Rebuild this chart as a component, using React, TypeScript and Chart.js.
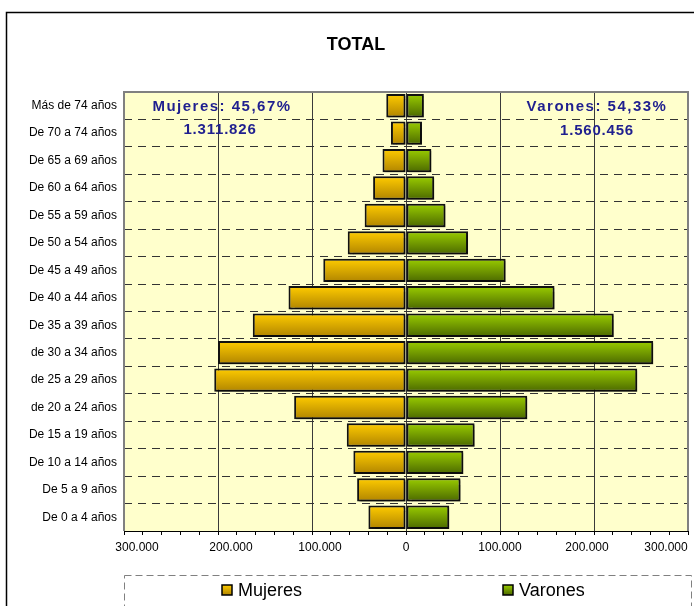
import React, { useEffect, useRef } from 'react';
import { Chart, registerables } from 'chart.js';

Chart.register(...registerables);

const chartTitle = 'TOTAL';
const ageGroups = [
  'Más de 74 años', 'De 70 a 74 años', 'De 65 a 69 años', 'De 60 a 64 años',
  'De 55 a 59 años', 'De 50 a 54 años', 'De 45 a 49 años', 'De 40 a 44 años',
  'De 35 a 39 años', 'de 30 a 34 años', 'de 25 a 29 años', 'de 20 a 24 años',
  'De 15 a 19 años', 'De 10 a 14 años', 'De 5 a 9 años', 'De 0 a 4 años',
];
const mujeres = [21000, 16000, 25000, 35000, 44000, 62000, 88000, 125000, 163000, 200000, 204000, 119000, 63000, 56000, 52000, 40000];
const varones = [19000, 17000, 27000, 30000, 42000, 66000, 106000, 158000, 221000, 263000, 246000, 129000, 73000, 61000, 58000, 46000];
const seriesNames = ['Mujeres', 'Varones'];
const summaryPct = ['Mujeres: 45,67%', 'Varones: 54,33%'];
const summaryTotal = ['1.311.826', '1.560.456'];
const xMin = -300000;
const xMax = 300000;
const xMajorStep = 100000;
const xMinorStep = 20000;

const FONT = "'Liberation Sans', Arial, sans-serif";
const BAR_FRAC = 0.85;
const COLORS = [
  { top: '#FFCC00', bottom: '#B08400' },
  { top: '#9ACD00', bottom: '#4B6800' },
];

const fmt = (v: number) => String(Math.abs(Math.round(v))).replace(/\B(?=(\d{3})+(?!\d))/g, '.');

function gradientFor(idx: number) {
  return (ctx: any) => {
    const chart = ctx.chart;
    const area = chart.chartArea;
    if (!area || ctx.type !== 'data' || !chart.scales.y) return COLORS[idx].top;
    const y = chart.scales.y;
    const c = y.getPixelForValue(ctx.dataIndex);
    const h = ((area.bottom - area.top) / ageGroups.length) * BAR_FRAC;
    const g = chart.ctx.createLinearGradient(0, c - h / 2, 0, c + h / 2);
    g.addColorStop(0, COLORS[idx].top);
    g.addColorStop(1, COLORS[idx].bottom);
    return g;
  };
}

const decorPlugin = {
  id: 'decor',
  beforeDraw(chart: any) {
    const { ctx, chartArea: a } = chart;
    ctx.save();
    ctx.fillStyle = '#FFFFCC';
    ctx.fillRect(a.left, a.top, a.right - a.left, a.bottom - a.top);
    ctx.restore();
  },
  beforeDatasetsDraw(chart: any) {
    const ctx = chart.ctx;
    ctx.save();
    ctx.shadowColor = 'rgba(0,0,0,0.35)';
    ctx.shadowOffsetX = 2;
    ctx.shadowOffsetY = 2;
    ctx.shadowBlur = 1;
  },
  afterDatasetsDraw(chart: any) {
    chart.ctx.restore();
  },
  afterDraw(chart: any) {
    const { ctx, chartArea: a } = chart;
    const xs = chart.scales.x;
    ctx.save();
    // plot border (top, left, right)
    ctx.strokeStyle = '#808080';
    ctx.lineWidth = 2;
    ctx.beginPath();
    ctx.moveTo(a.left, a.bottom);
    ctx.lineTo(a.left, a.top);
    ctx.lineTo(a.right, a.top);
    ctx.lineTo(a.right, a.bottom);
    ctx.stroke();

    // outer frame
    ctx.strokeStyle = '#000';
    ctx.lineWidth = 1.5;
    ctx.strokeRect(6.5, 12.5, 700, 700);

    // title
    ctx.fillStyle = '#000';
    ctx.font = `bold 18px ${FONT}`;
    ctx.textAlign = 'center';
    ctx.textBaseline = 'middle';
    ctx.fillText(chartTitle, 356, 45);

    // x tick labels
    const nudge = [13, 13, 8, 0, 0, -7, -22];
    ctx.font = `12px ${FONT}`;
    let k = 0;
    xs.ticks.forEach((t: any) => {
      const v = Math.round(t.value);
      if (v % xMajorStep !== 0) return;
      const px = xs.getPixelForValue(v) + (nudge[k] || 0);
      k++;
      ctx.fillText(fmt(v), px, 548);
    });

    // summary annotations
    ctx.fillStyle = '#1F1F8F';
    ctx.font = `bold 15px ${FONT}`;
    (ctx as any).letterSpacing = '1.5px';
    ctx.fillText(summaryPct[0], 222, 107);
    ctx.fillText(summaryPct[1], 597, 107);
    (ctx as any).letterSpacing = '0.8px';
    ctx.fillText(summaryTotal[0], 220, 130);
    ctx.fillText(summaryTotal[1], 597, 131);
    (ctx as any).letterSpacing = '0px';

    // legend box
    ctx.strokeStyle = '#808080';
    ctx.lineWidth = 1;
    ctx.setLineDash([7, 4]);
    ctx.strokeRect(124.5, 575.5, 567, 100);
    ctx.setLineDash([]);

    // legend items
    const items = [
      { sx: 222, tx: 238 },
      { sx: 503, tx: 519 },
    ];
    chart.data.datasets.forEach((ds: any, i: number) => {
      const it = items[i];
      const g = ctx.createLinearGradient(0, 585, 0, 595);
      g.addColorStop(0, COLORS[i].top);
      g.addColorStop(1, COLORS[i].bottom);
      ctx.fillStyle = g;
      ctx.fillRect(it.sx, 585, 10, 10);
      ctx.strokeStyle = '#000';
      ctx.lineWidth = 1.5;
      ctx.strokeRect(it.sx, 585, 10, 10);
      ctx.fillStyle = '#000';
      ctx.font = `18px ${FONT}`;
      ctx.textAlign = 'left';
      ctx.fillText(ds.label, it.tx, 591);
    });
    ctx.restore();
  },
};

export default function App() {
  const ref = useRef<HTMLCanvasElement | null>(null);
  useEffect(() => {
    if (!ref.current) return;
    const chart = new Chart(ref.current, {
      type: 'bar',
      data: {
        labels: ageGroups,
        datasets: [
          {
            label: seriesNames[0],
            data: mujeres.map((v) => -v),
            backgroundColor: gradientFor(0),
            borderColor: '#111',
            borderWidth: 2,
            borderSkipped: false,
            barPercentage: BAR_FRAC,
            categoryPercentage: 1,
          },
          {
            label: seriesNames[1],
            data: varones,
            backgroundColor: gradientFor(1),
            borderColor: '#111',
            borderWidth: 2,
            borderSkipped: false,
            barPercentage: BAR_FRAC,
            categoryPercentage: 1,
          },
        ],
      },
      options: {
        indexAxis: 'y',
        animation: false,
        responsive: false,
        maintainAspectRatio: false,
        layout: { padding: { left: 0, top: 92, right: 6, bottom: 57 } },
        plugins: {
          legend: { display: false },
          title: { display: false },
          tooltip: { enabled: false },
        },
        scales: {
          x: {
            type: 'linear',
            stacked: true,
            min: xMin,
            max: xMax,
            ticks: { display: false, stepSize: xMinorStep },
            grid: {
              color: (c: any) =>
                c.tick && Math.round(c.tick.value) % xMajorStep === 0 && c.tick.value !== xMin && c.tick.value !== xMax
                  ? '#3a3a3a'
                  : 'rgba(0,0,0,0)',
              lineWidth: 1,
              tickColor: '#000',
              tickLength: 4,
              drawTicks: true,
            },
            border: { display: true, color: '#000', width: 1 },
            afterFit: (s: any) => {
              s.height = 18;
              s.paddingLeft = 0;
              s.paddingRight = 0;
            },
          },
          y: {
            type: 'category',
            stacked: true,
            offset: true,
            grid: { offset: true, color: '#333', lineWidth: 1, drawTicks: false },
            border: { display: false, dash: [8, 6] },
            ticks: { color: '#000', font: { size: 12, family: FONT }, padding: 7, autoSkip: false },
            afterFit: (s: any) => {
              s.width = 124;
            },
          },
        },
      },
      plugins: [decorPlugin],
    } as any);
    return () => chart.destroy();
  }, []);
  return (
    <div style={{ position: 'absolute', left: 0, top: 0, width: 694, height: 606, overflow: 'hidden', background: '#fff' }}>
      <canvas ref={ref} width={694} height={606} style={{ width: 694, height: 606, display: 'block' }} />
    </div>
  );
}
